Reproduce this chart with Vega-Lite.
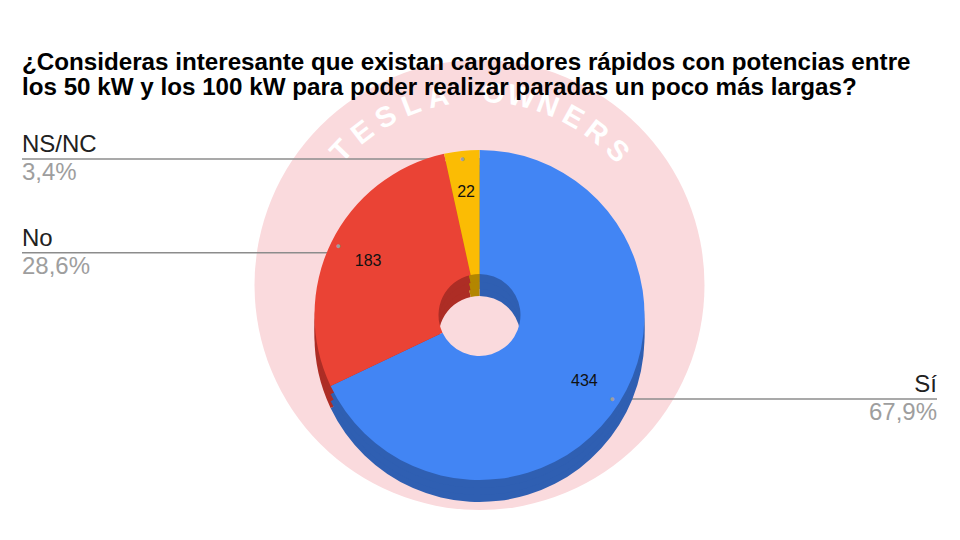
{
  "$schema": "https://vega.github.io/schema/vega-lite/v6.json",
  "width": 915,
  "height": 400,
  "autosize": {"type": "none"},
  "padding": {"left": 22, "right": 23, "top": 115, "bottom": 25},
  "background": "white",
  "config": {
    "view": {"stroke": null},
    "font": "Liberation Sans",
    "locale": {"number": {"decimal": ",", "thousands": ".", "grouping": [3], "currency": ["", " €"]}}
  },
  "title": {
    "text": [
      "¿Consideras interesante que existan cargadores rápidos con potencias entre",
      "los 50 kW y los 100 kW para poder realizar paradas un poco más largas?"
    ],
    "font": "Liberation Sans",
    "fontSize": 24.2,
    "fontWeight": "bold",
    "anchor": "start",
    "frame": "group",
    "lineHeight": 25,
    "color": "#000000",
    "offset": 12,
    "dy": 52
  },
  "datasets": {
    "respuestas": [
      {"Respuesta": "Sí", "Recuento": 434, "Porcentaje": 0.6792, "Lado": "der", "Orden": 1},
      {"Respuesta": "No", "Recuento": 183, "Porcentaje": 0.2864, "Lado": "izq", "Orden": 2},
      {"Respuesta": "NS/NC", "Recuento": 22, "Porcentaje": 0.0344, "Lado": "izq", "Orden": 3}
    ],
    "marca": [
      {"i": 0, "letra": "T"},
      {"i": 1, "letra": "E"},
      {"i": 2, "letra": "S"},
      {"i": 3, "letra": "L"},
      {"i": 4, "letra": "A"},
      {"i": 5, "letra": " "},
      {"i": 6, "letra": "O"},
      {"i": 7, "letra": "W"},
      {"i": 8, "letra": "N"},
      {"i": 9, "letra": "E"},
      {"i": 10, "letra": "R"},
      {"i": 11, "letra": "S"}
    ],
    "fondo": [{"marca": "Tesla Owners"}]
  },
  "data": {"name": "respuestas"},
  "layer": [
    {
      "data": {"name": "fondo"},
      "mark": {"type": "arc", "outerRadius": 225, "theta": 0, "theta2": 6.2832, "color": "#fadadd", "yOffset": -30},
      "encoding": {}
    },
    {
      "data": {"name": "marca"},
      "mark": {"type": "text", "radius": 192, "yOffset": -30, "fontSize": 29, "fontWeight": "bold", "color": "#ffffff", "baseline": "middle"},
      "encoding": {
        "theta": {"field": "i", "type": "quantitative", "scale": {"domain": [0, 11], "range": [-0.8, 0.8], "zero": false}},
        "angle": {"field": "i", "type": "quantitative", "scale": {"domain": [0, 11], "range": [-46, 46], "zero": false}},
        "text": {"field": "letra"}
      }
    },
    {
      "mark": {"type": "rule", "color": "#8c8c8c", "strokeWidth": 1.5},
      "encoding": {
        "x": {"field": "Lado", "type": "nominal", "scale": {"type": "point", "domain": ["izq", "centro", "der"], "padding": 0}, "axis": null},
        "x2": {"datum": "centro"},
        "y": {"field": "Porcentaje", "type": "quantitative", "scale": {"domain": [0.0344, 0.6792], "range": [44, 284], "zero": false, "nice": false}, "axis": null}
      }
    },
    {
      "mark": {"type": "arc", "outerRadius": 165, "innerRadius": 41, "yOffset": 22},
      "encoding": {
        "theta": {"field": "Recuento", "type": "quantitative", "stack": true},
        "order": {"field": "Orden"},
        "color": {"field": "Respuesta", "type": "nominal", "scale": {"domain": ["Sí", "No", "NS/NC"], "range": ["#2f5fb2", "#ad2d25", "#b38600"]}, "legend": null}
      }
    },
    {
      "mark": {"type": "arc", "outerRadius": 165, "innerRadius": 41, "yOffset": 15},
      "encoding": {
        "theta": {"field": "Recuento", "type": "quantitative", "stack": true},
        "order": {"field": "Orden"},
        "color": {"field": "Respuesta", "type": "nominal", "scale": {"domain": ["Sí", "No", "NS/NC"], "range": ["#2f5fb2", "#ad2d25", "#b38600"]}, "legend": null}
      }
    },
    {
      "mark": {"type": "arc", "outerRadius": 165, "innerRadius": 41, "yOffset": 8},
      "encoding": {
        "theta": {"field": "Recuento", "type": "quantitative", "stack": true},
        "order": {"field": "Orden"},
        "color": {"field": "Respuesta", "type": "nominal", "scale": {"domain": ["Sí", "No", "NS/NC"], "range": ["#2f5fb2", "#ad2d25", "#b38600"]}, "legend": null}
      }
    },
    {
      "mark": {"type": "arc", "outerRadius": 165, "innerRadius": 41},
      "encoding": {
        "theta": {"field": "Recuento", "type": "quantitative", "stack": true},
        "order": {"field": "Orden"},
        "color": {"field": "Respuesta", "type": "nominal", "scale": {"domain": ["Sí", "No", "NS/NC"], "range": ["#4285f4", "#ea4335", "#fbbc04"]}, "legend": null}
      }
    },
    {
      "mark": {"type": "text", "radius": 124, "fontSize": 16, "color": "#111111"},
      "encoding": {
        "theta": {"field": "Recuento", "type": "quantitative", "stack": true},
        "order": {"field": "Orden"},
        "text": {"field": "Recuento", "type": "quantitative"}
      }
    },
    {
      "mark": {"type": "text", "radius": 157, "fontSize": 9, "color": "#9e9e9e"},
      "encoding": {
        "theta": {"field": "Recuento", "type": "quantitative", "stack": true},
        "order": {"field": "Orden"},
        "text": {"value": "●"}
      }
    },
    {
      "transform": [{"filter": "datum.Lado == 'izq'"}],
      "mark": {"type": "text", "align": "left", "baseline": "alphabetic", "dy": -7, "fontSize": 24, "color": "#212121"},
      "encoding": {
        "x": {"field": "Lado", "type": "nominal"},
        "y": {"field": "Porcentaje", "type": "quantitative"},
        "text": {"field": "Respuesta"}
      }
    },
    {
      "transform": [{"filter": "datum.Lado == 'izq'"}],
      "mark": {"type": "text", "align": "left", "baseline": "alphabetic", "dy": 21, "fontSize": 24, "color": "#9e9e9e"},
      "encoding": {
        "x": {"field": "Lado", "type": "nominal"},
        "y": {"field": "Porcentaje", "type": "quantitative"},
        "text": {"field": "Porcentaje", "type": "quantitative", "format": ".1%"}
      }
    },
    {
      "transform": [{"filter": "datum.Lado == 'der'"}],
      "mark": {"type": "text", "align": "right", "baseline": "alphabetic", "dy": -7, "fontSize": 24, "color": "#212121"},
      "encoding": {
        "x": {"field": "Lado", "type": "nominal"},
        "y": {"field": "Porcentaje", "type": "quantitative"},
        "text": {"field": "Respuesta"}
      }
    },
    {
      "transform": [{"filter": "datum.Lado == 'der'"}],
      "mark": {"type": "text", "align": "right", "baseline": "alphabetic", "dy": 21, "fontSize": 24, "color": "#9e9e9e"},
      "encoding": {
        "x": {"field": "Lado", "type": "nominal"},
        "y": {"field": "Porcentaje", "type": "quantitative"},
        "text": {"field": "Porcentaje", "type": "quantitative", "format": ".1%"}
      }
    }
  ],
  "resolve": {"scale": {"color": "independent", "theta": "independent"}}
}
